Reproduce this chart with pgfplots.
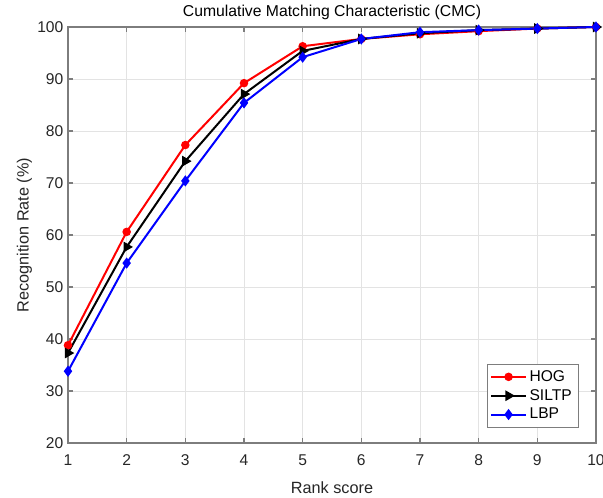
\documentclass[border=0pt]{standalone}
\usepackage{fontspec}
\setmainfont{Liberation Sans}
\usepackage{pgfplots}
\pgfplotsset{compat=1.18}
\definecolor{axgray}{HTML}{262626}
\definecolor{gridgray}{HTML}{E3E3E3}

\begin{document}
\begin{tikzpicture}
\begin{axis}[
  at={(0,0)}, anchor=south west,
  width=396pt, height=312pt, scale only axis,
  xmin=1, xmax=10, ymin=20, ymax=100,
  xtick={1,...,10}, ytick={20,30,...,100},
  grid=major, major grid style={gridgray, line width=0.6pt},
  axis line style={axgray!60, line width=0.8pt}, tick style={axgray!60, line width=0.8pt},
  tick align=inside, tick pos=both, major tick length=4pt,
  ticklabel style={font=\fontsize{11.7}{13}\selectfont, text=axgray},
  xticklabel style={yshift=-5.5pt},
  /pgf/number format/assume math mode=true,
  title={Cumulative Matching Characteristic (CMC)},
  title style={font=\fontsize{11.8}{13}\selectfont, yshift=-4pt},
  xlabel={Rank score}, ylabel={Recognition Rate (\%)},
  label style={font=\fontsize{12.2}{14}\selectfont, text=axgray},
  xlabel style={yshift=-5pt},
  ylabel style={yshift=-3pt},
  legend style={font=\fontsize{11.7}{13}\selectfont, draw=axgray!60, inner sep=2.5pt,
    row sep=0.5pt, at={(0.966,0.038)}, anchor=south east},
  legend cell align=left,
  legend image code/.code={
    \draw[mark repeat=2, mark phase=2, #1] plot coordinates {(0pt,0pt) (13pt,0pt) (26pt,0pt)};},
]
\addplot[red, line width=1.5pt, mark=*, mark size=2.4pt, mark options={solid}]
  coordinates {(1,38.8) (2,60.6) (3,77.3) (4,89.2) (5,96.3) (6,97.7) (7,98.6) (8,99.2) (9,99.7) (10,100)};
\addplot[black, line width=1.5pt, mark=triangle*, mark size=3.2pt, mark options={rotate=-90, solid}]
  coordinates {(1,37.3) (2,57.7) (3,74.2) (4,87.1) (5,95.4) (6,97.7) (7,98.8) (8,99.4) (9,99.7) (10,100)};
\addplot[blue, line width=1.5pt, mark=diamond*, mark size=3pt, mark options={solid}]
  coordinates {(1,33.8) (2,54.6) (3,70.4) (4,85.4) (5,94.2) (6,97.7) (7,99.0) (8,99.4) (9,99.7) (10,100)};
\legend{HOG, SILTP, LBP}
\end{axis}
\pgfresetboundingbox
\useasboundingbox (-51pt,-41.25pt) rectangle (401.25pt,332.25pt);
\end{tikzpicture}
\end{document}
